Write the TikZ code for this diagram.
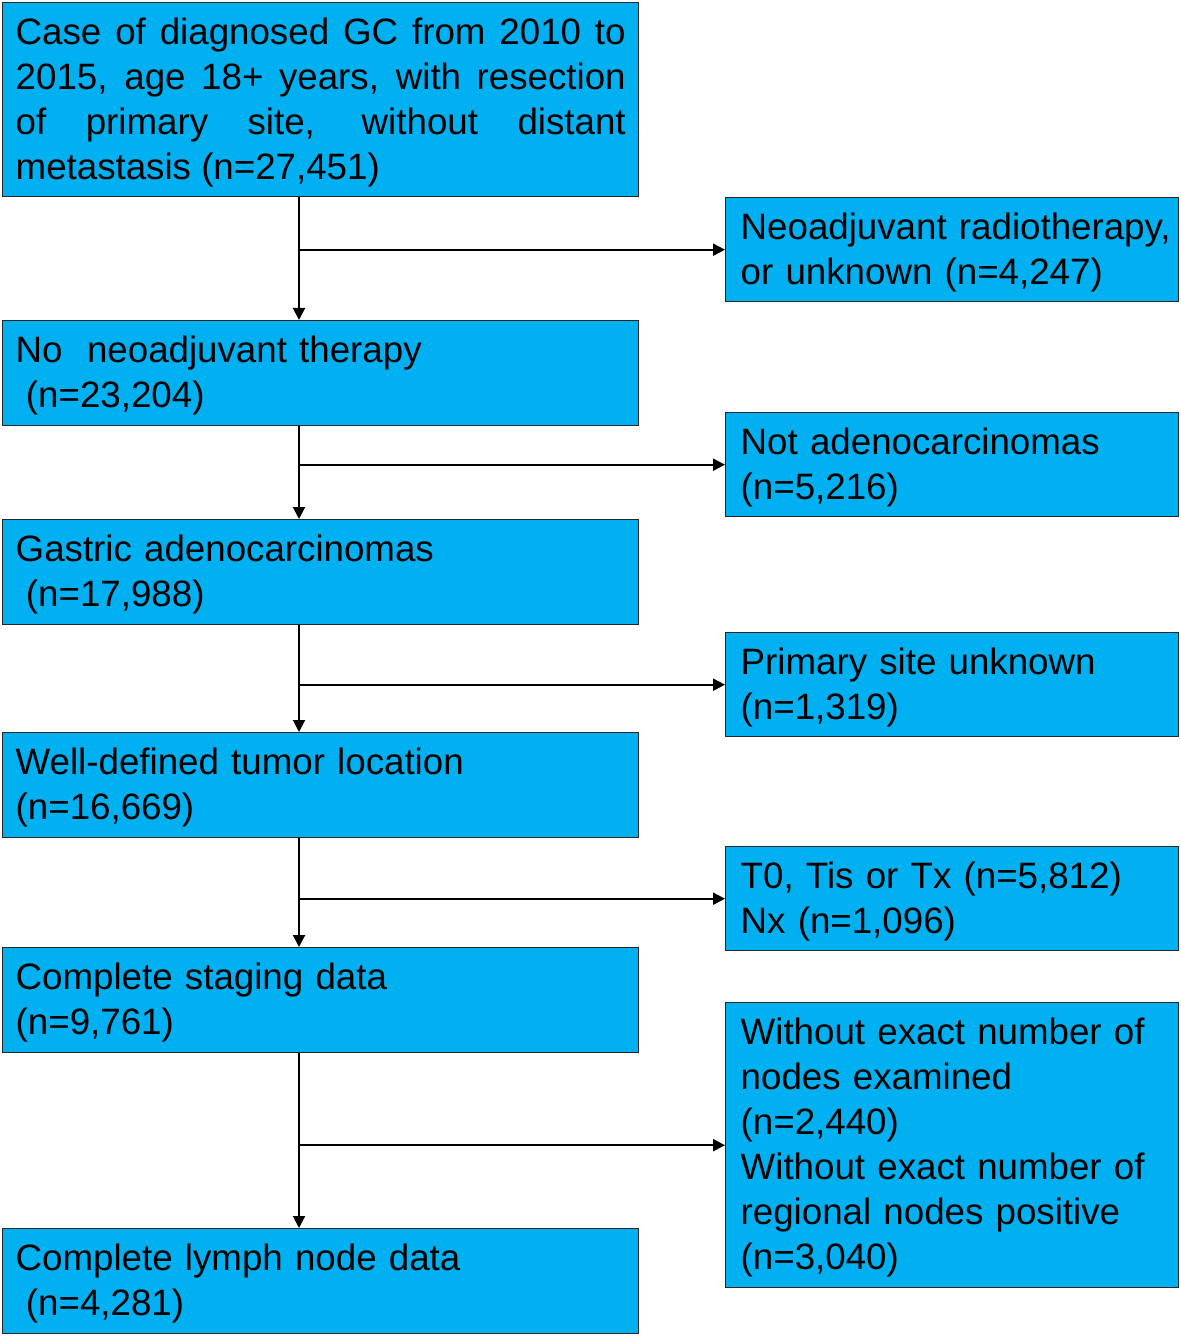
\documentclass[tikz,border=0pt]{standalone}
\usepackage{fontspec}
\setmainfont{Liberation Sans}
\usetikzlibrary{arrows.meta}
\definecolor{boxcyan}{HTML}{00B0F0}

\begin{document}
\begin{tikzpicture}[x=0.5pt, y=-0.5pt,
    box/.style={rectangle, draw=black!85, line width=0.7pt, fill=boxcyan, anchor=north west,
      inner ysep=0pt, font=\fontsize{18.35pt}{22.5pt}\selectfont,
      execute at begin node={\rule{0pt}{16pt}}},
    leftbox/.style={box, text width=305pt, inner xsep=6.5pt, minimum height=52.5pt, align=left},
    rightbox/.style={box, text width=211.5pt, inner xsep=7.5pt, minimum height=52pt, align=left},
    flow/.style={line width=1pt, -{Triangle[length=6pt, width=6pt]}}]
    \useasboundingbox (0, 0) rectangle (1180, 1336);

    \node[leftbox, minimum height=97pt, align=justify] (cases) at (2, 2)
      {Case of diagnosed GC from 2010 to\linebreak 2015, age 18+ years, with resection\linebreak of primary site, without distant\linebreak metastasis (n=27,451)};
    \node[leftbox] (nonadj) at (2, 320) {No\ \ neoadjuvant therapy\\\hspace*{0.28em}(n=23,204)};
    \node[leftbox] (gastric) at (2, 519) {Gastric adenocarcinomas\\\hspace*{0.28em}(n=17,988)};
    \node[leftbox] (location) at (2, 732) {Well-defined tumor location\\(n=16,669)};
    \node[leftbox] (staging) at (2, 947) {Complete staging data\\(n=9,761)};
    \node[leftbox] (lymph) at (2, 1228) {Complete lymph node data\\\hspace*{0.28em}(n=4,281)};

    \node[rightbox] (radio) at (725, 197) {\makebox[\linewidth][l]{Neoadjuvant radiotherapy,}\\or unknown (n=4,247)};
    \node[rightbox] (adeno) at (725, 412) {Not adenocarcinomas\\(n=5,216)};
    \node[rightbox] (site) at (725, 632) {Primary site unknown\\(n=1,319)};
    \node[rightbox] (tstage) at (725, 846) {T0, Tis or Tx (n=5,812)\\Nx (n=1,096)};
    \node[rightbox, minimum height=142.5pt] (exam) at (725, 1002)
      {Without exact number of\\nodes examined\\(n=2,440)\\Without exact number of\\regional nodes positive\\(n=3,040)};

    \coordinate (spine) at (299, 0);
    \draw[flow] (cases.south -| spine) -- (nonadj.north -| spine);
    \draw[flow] (nonadj.south -| spine) -- (gastric.north -| spine);
    \draw[flow] (gastric.south -| spine) -- (location.north -| spine);
    \draw[flow] (location.south -| spine) -- (staging.north -| spine);
    \draw[flow] (staging.south -| spine) -- (lymph.north -| spine);

    \draw[flow] (radio.west -| spine) -- (radio.west);
    \draw[flow] (adeno.west -| spine) -- (adeno.west);
    \draw[flow] (site.west -| spine) -- (site.west);
    \draw[flow] (tstage.west -| spine) -- (tstage.west);
    \draw[flow] (exam.west -| spine) -- (exam.west);
  \end{tikzpicture}
\end{document}
